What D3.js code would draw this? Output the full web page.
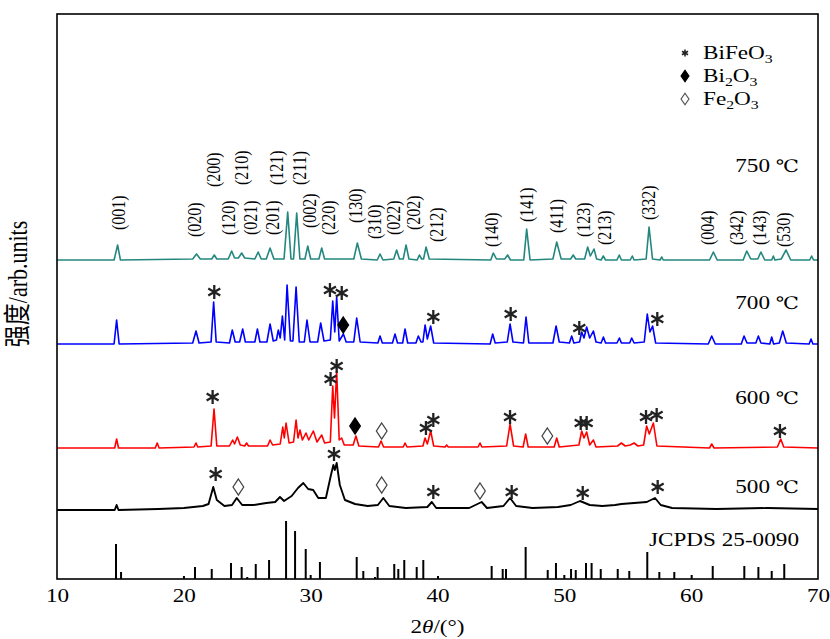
<!DOCTYPE html>
<html>
<head>
<meta charset="utf-8">
<script src="https://cdn.jsdelivr.net/npm/d3@7"></script>
<style>
  body { margin: 0; background: #fff; }
  text { font-family: "Liberation Serif", "DejaVu Serif", serif; fill: #000; }
</style>
</head>
<body>
<svg id="chart" width="830" height="639"></svg>
<script>
// ---- data (2theta in degrees, intensity in a.u.) ----
const temps = ["500", "600", "700", "750"];
const offsets = [69, 131, 235, 319];
const colors = ["#000000", "#ff0000", "#0000ff", "#23877f"];

const xrd500 = [[10,0],[14.55,0],[14.7,5],[14.85,0],[18,1],[20,2],[21.5,4],[21.95,6],[22.32,23],[22.6,10],[23.2,4],[23.8,5],[24.17,12],[24.6,5],[25.5,5],[26.5,7],[27.2,8],[27.58,13],[27.9,9],[28.5,14],[29.0,22],[29.42,27],[29.8,21],[30.2,20],[30.6,12],[31.2,12],[31.6,35],[31.79,45],[31.9,40],[32.05,47],[32.3,25],[32.7,10],[33.5,6],[34.5,4],[35.3,5],[35.73,12],[36.2,4],[37.5,2],[39.2,3],[39.55,8],[39.9,2],[42.5,2],[43.48,8],[43.9,2],[45.2,4],[45.72,12],[46.2,4],[47.5,2],[49.5,3],[50.5,5],[51.24,9],[52.0,5],[53.0,4],[54.0,5],[54.5,6],[55.5,7],[56.5,8],[57.15,12],[57.6,5],[58.5,2],[62,1],[66,2],[70,1]];

const xrd600 = [[10,0],[14.55,0],[14.7,9],[14.85,0],[17.75,0],[17.9,5],[18.05,0],[20.8,1],[20.96,5],[21.1,1],[22.15,2],[22.38,39],[22.6,2],[23.6,2],[23.85,8],[24.0,4],[24.22,11],[24.45,3],[24.8,2],[24.95,5],[25.1,2],[26.6,2],[26.8,8],[27.0,3],[27.6,4],[27.8,21],[27.92,10],[28.06,25],[28.3,5],[28.65,6],[28.85,28],[29.0,10],[29.16,18],[29.35,8],[29.63,15],[29.85,8],[30.21,17],[30.5,6],[30.87,13],[31.1,5],[31.55,6],[31.74,62],[31.88,30],[32.05,77],[32.25,8],[32.44,10],[32.65,3],[33.35,3],[33.57,12],[33.8,2],[35.35,1],[35.55,7],[35.75,1],[37.3,1],[37.44,5],[37.6,1],[38.85,2],[39.02,10],[39.2,4],[39.46,17],[39.7,2],[40.6,1],[40.72,3],[40.85,1],[43.2,1],[43.35,5],[43.5,1],[45.45,2],[45.72,24],[46.0,2],[46.75,1],[46.95,14],[47.15,1],[49.2,1],[49.4,10],[49.6,1],[51.15,3],[51.37,17],[51.55,10],[51.76,16],[52.0,3],[52.29,8],[52.5,1],[54.2,2],[54.5,5],[54.8,2],[55.2,3],[55.5,5],[55.8,2],[56.25,3],[56.49,22],[56.7,14],[57.02,25],[57.3,2],[61.45,0],[61.62,4],[61.8,0],[66.8,1],[67.06,9],[67.3,1],[70,0]];

const xrd700 = [[10,0],[14.5,0],[14.7,24],[14.9,0],[20.7,1],[20.96,13],[21.2,1],[22.15,2],[22.35,42],[22.55,2],[23.6,1],[23.82,14],[24.05,2],[24.4,2],[24.64,15],[24.85,2],[25.6,2],[25.8,15],[26.0,2],[26.55,2],[26.8,20],[27.05,3],[27.3,4],[27.45,14],[27.6,6],[27.77,28],[27.95,4],[28.14,59],[28.4,3],[28.6,3],[28.85,57],[29.1,2],[29.5,2],[29.71,24],[29.95,2],[30.55,2],[30.79,21],[31.05,3],[31.55,4],[31.74,43],[31.9,12],[32.05,47],[32.25,3],[32.58,10],[32.8,2],[33.4,2],[33.63,26],[33.9,2],[35.3,1],[35.47,8],[35.65,1],[36.45,1],[36.65,10],[36.85,1],[37.25,1],[37.44,15],[37.65,1],[38.3,1],[38.49,8],[38.7,2],[38.85,2],[39.02,19],[39.2,5],[39.46,18],[39.7,1],[44.15,0],[44.35,10],[44.55,1],[45.5,2],[45.72,20],[45.95,2],[46.78,1],[46.98,27],[47.2,1],[49.1,1],[49.35,18],[49.6,2],[50.4,1],[50.58,8],[50.75,1],[51.2,2],[51.37,12],[51.55,6],[51.76,17],[52.0,6],[52.29,13],[52.5,2],[52.9,1],[53.08,7],[53.25,1],[54.15,1],[54.34,6],[54.5,1],[55.15,1],[55.31,6],[55.5,1],[56.3,2],[56.54,30],[56.75,12],[56.96,18],[57.2,1],[61.35,0],[61.62,8],[61.9,0],[63.95,0],[64.17,8],[64.4,1],[65.1,1],[65.3,8],[65.5,1],[66.2,0],[66.35,7],[66.5,0],[66.95,1],[67.22,13],[67.5,1],[69.3,0],[69.45,5],[69.6,0],[70,0]];

const xrd750 = [[10,0],[14.5,0],[14.78,15],[15.0,0],[20.7,1],[21.0,6],[21.3,1],[22.2,1],[22.4,5],[22.6,1],[23.5,1],[23.77,9],[24.0,2],[24.3,2],[24.56,7],[24.8,2],[25.6,1],[25.86,8],[26.1,1],[26.5,1],[26.8,12],[27.1,1],[27.9,1],[28.19,48],[28.45,1],[28.65,1],[28.9,47],[29.15,1],[29.55,1],[29.77,14],[30.0,1],[30.65,1],[30.87,12],[31.1,1],[33.4,1],[33.68,17],[34.0,1],[35.25,0],[35.47,6],[35.7,0],[36.55,1],[36.78,10],[37.0,1],[37.3,1],[37.52,15],[37.75,1],[38.4,0],[38.57,5],[38.75,1],[38.9,1],[39.1,13],[39.35,1],[44.2,0],[44.4,7],[44.65,1],[45.3,1],[45.53,5],[45.75,0],[46.8,0],[47.03,31],[47.3,0],[49.1,1],[49.4,18],[49.75,1],[50.5,1],[50.7,5],[50.9,1],[51.6,1],[51.84,13],[52.05,4],[52.34,11],[52.55,1],[52.9,0],[53.07,4],[53.25,0],[54.15,0],[54.33,5],[54.5,0],[55.2,0],[55.36,4],[55.5,0],[56.45,1],[56.68,33],[56.95,1],[57.55,0],[57.68,3],[57.8,0],[61.45,0],[61.75,8],[62.05,0],[64.1,0],[64.38,9],[64.7,1],[65.25,1],[65.5,8],[65.8,0],[66.35,0],[66.48,4],[66.6,0],[67.1,1],[67.48,10],[67.85,0],[69.35,0],[69.5,4],[69.65,0],[70,0]];

const patterns = [xrd500, xrd600, xrd700, xrd750];

// JCPDS 25-0090 reference lines
const refPos = [14.65,15.05,20.01,20.88,22.2,23.72,24.56,25.0,25.67,26.72,28.06,28.77,29.61,30.0,30.73,33.63,34.15,35.07,35.28,36.59,36.91,37.38,38.36,38.88,40.04,44.27,45.14,45.4,46.95,48.69,49.34,50.0,50.53,50.9,51.71,52.15,52.87,54.21,55.12,56.54,57.49,58.67,60.04,61.7,64.19,65.3,66.35,67.34];
const refInt = [35,7,3,12,10,16,12,2,15,19,58,48,30,4,17,22,8,2,12,15,10,19,12,19,3,13,10,10,32,9,16,4,10,9,16,16,10,10,8,27,7,7,4,13,13,12,8,15];

// Miller indices on the 750 ℃ pattern: label, 2theta, level of label foot
const hklText = ["(001)","(020)","(200)","(120)","(210)","(021)","(201)","(121)","(211)","(002)","(220)","(130)","(310)","(022)","(202)","(212)","(140)","(141)","(411)","(123)","(213)","(332)","(004)","(342)","(143)","(530)"];
const hklPos = [14.83,20.88,22.32,23.51,24.56,25.27,27.03,27.32,29.1,29.89,31.39,33.5,35.02,36.52,38.15,39.94,44.28,47.03,49.4,51.5,53.21,56.62,61.27,63.54,65.43,67.27];
const hklLevel = [349,342,392,344,394,344,344,394,394,351,344,356,340,344,349,337,332,357,346,342,334,359,334,334,334,332];

// phase markers: 2theta, level, phase (0 BiFeO3, 1 Bi2O3, 2 Fe2O3)
const marks700 = [[22.40,287,0],[31.52,289,0],[32.45,286,0],[32.57,254,1],[39.67,262,0],[45.77,265,0],[51.18,251,0],[57.33,260,0]];
const marks600 = [[22.27,182,0],[31.57,200,0],[32.05,213,0],[33.5,153,1],[35.6,148,2],[39.09,151,0],[39.67,159,0],[45.72,162,0],[48.66,143,2],[51.29,156,0],[51.76,156,0],[56.44,162,0],[57.28,164,0],[67.0,148,0]];
const marks500 = [[22.51,105,0],[24.3,92,2],[31.84,125,0],[35.6,94,2],[39.67,87,0],[43.35,88,2],[45.85,87,0],[51.45,86,0],[57.36,92,0]];

const tempLevel = [86, 175, 270, 407];
const refLabel = "JCPDS 25-0090";
const xTicks = [10, 20, 30, 40, 50, 60, 70];

// ---- chart ----
const SX = 1.22; // the original figure is stretched horizontally
const svg = d3.select("#chart");
const margin = {top: 14, right: 12, bottom: 60, left: 57};
const width = +svg.attr("width") - margin.left - margin.right;
const height = +svg.attr("height") - margin.top - margin.bottom;
const g = svg.append("g").attr("transform", `translate(${margin.left},${margin.top})`);

const x = d3.scaleLinear().domain([10, 70]).range([0, width]);
const y = d3.scaleLinear().domain([0, 565]).range([height, 0]);

function stretch(px, py, rot) {
  return `translate(${px},${py}) scale(${SX},1)` + (rot ? " rotate(-90)" : "");
}

// reference sticks
g.append("g").selectAll("line")
  .data(refPos)
  .join("line")
    .attr("x1", d => x(d)).attr("x2", d => x(d))
    .attr("y1", y(0))
    .attr("y2", (d, i) => y(refInt[i]))
    .attr("stroke", "#000")
    .attr("stroke-width", 2);

// patterns
patterns.forEach((p, k) => {
  const line = d3.line()
    .x(d => x(d[0]))
    .y(d => y(d[1] + offsets[k]));
  g.append("path")
    .datum(p)
    .attr("d", line)
    .attr("fill", "none")
    .attr("stroke", colors[k])
    .attr("stroke-width", k === 0 ? 1.9 : 1.6)
    .attr("stroke-linejoin", "round");
});

// markers
const star = d3.symbol(d3.symbolAsterisk, 135);
const diamond = d3.symbol(d3.symbolDiamond, 75);
function drawMarks(list) {
  list.forEach(m => {
    const px = x(m[0]), py = y(m[1]);
    if (m[2] === 0) {
      g.append("path").attr("d", star).attr("transform", `translate(${px},${py})`)
        .attr("fill", "none").attr("stroke", "#222").attr("stroke-width", 2.3);
    } else {
      g.append("path").attr("d", diamond).attr("transform", `translate(${px},${py}) scale(1.15,1)`)
        .attr("fill", m[2] === 1 ? "#000" : "#fff")
        .attr("stroke", m[2] === 1 ? "#000" : "#444")
        .attr("stroke-width", 1.1);
    }
  });
}
drawMarks(marks700);
drawMarks(marks600);
drawMarks(marks500);

// hkl labels
g.append("g").selectAll("text")
  .data(hklText)
  .join("text")
    .attr("transform", (d, i) => stretch(x(hklPos[i]), y(hklLevel[i]), true))
    .attr("dy", "0.33em")
    .attr("font-size", 16)
    .text(d => d);

// temperature labels
function tempText(sel, t) {
  sel.append("tspan").text(t + " ");
  sel.append("tspan").style("font-family", "'DejaVu Serif'").attr("font-size", 17).text("℃");
}
temps.forEach((t, i) => {
  g.append("text")
    .attr("transform", stretch(x(68.5), y(tempLevel[i]), false))
    .attr("text-anchor", "end")
    .attr("font-size", 19)
    .call(tempText, t);
});

g.append("text")
  .attr("transform", stretch(x(68.5), y(33), false))
  .attr("text-anchor", "end")
  .attr("font-size", 19)
  .text(refLabel);

// frame
g.append("rect")
  .attr("width", width).attr("height", height)
  .attr("fill", "none").attr("stroke", "#000").attr("stroke-width", 1.6);

// x axis
const xAxis = g.append("g")
  .attr("transform", `translate(0,${height})`)
  .call(d3.axisBottom(x).tickValues(xTicks).tickSize(0).tickPadding(10));
xAxis.select(".domain").remove();
xAxis.selectAll("text")
  .attr("font-size", 19)
  .attr("font-family", "Liberation Serif")
  .attr("transform", `scale(${SX},1)`);

// axis titles
const xt = svg.append("text")
  .attr("transform", stretch(margin.left + width / 2, 633, false))
  .attr("text-anchor", "middle")
  .attr("font-size", 19);
xt.append("tspan").text("2");
xt.append("tspan").attr("font-style", "italic").text("θ");
xt.append("tspan").text("/(°)");

svg.append("text")
  .attr("transform", stretch(18, 284, true))
  .attr("text-anchor", "middle")
  .attr("dy", "0.35em")
  .attr("font-size", 22)
  .style("font-family", "'Liberation Serif','Noto Sans CJK SC',serif")
  .text("强度/arb.units");

// legend
const legend = [0, 1, 2];
const lg = svg.append("g").attr("transform", "translate(685,53)");
legend.forEach((d, i) => {
  const row = lg.append("g").attr("transform", `translate(0,${i * 23})`);
  if (d === 0) {
    row.append("path").attr("d", d3.symbol(d3.symbolAsterisk, 34))
      .attr("fill", "none").attr("stroke", "#222").attr("stroke-width", 1.6);
  } else {
    row.append("path").attr("d", d3.symbol(d3.symbolDiamond, 38)).attr("transform", "scale(1.2,1)")
      .attr("fill", d === 1 ? "#000" : "#fff")
      .attr("stroke", d === 1 ? "#000" : "#555").attr("stroke-width", 1);
  }
  const t = row.append("text").attr("transform", stretch(18, 6, false)).attr("font-size", 19);
  if (d === 0) {
    t.append("tspan").text("BiFeO");
    t.append("tspan").attr("font-size", 13).attr("dy", 4).text("3");
  } else {
    t.append("tspan").text(d === 1 ? "Bi" : "Fe");
    t.append("tspan").attr("font-size", 13).attr("dy", 4).text("2");
    t.append("tspan").attr("dy", -4).text("O");
    t.append("tspan").attr("font-size", 13).attr("dy", 4).text("3");
  }
});
</script>
</body>
</html>
